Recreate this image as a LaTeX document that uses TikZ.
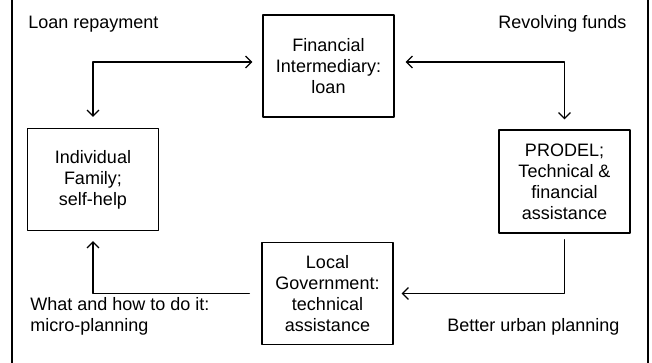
\documentclass[tikz,border=0pt]{standalone}
\usepackage{fontspec}
\setmainfont{Liberation Sans}
\usetikzlibrary{arrows.meta}

\begin{document}
\begin{tikzpicture}[x=0.5pt,y=-0.5pt,>={Straight Barb[length=3pt,width=6pt]},
    line cap=round,line join=round,
    stage/.style={draw,line width=.6pt,minimum width=65.5pt,minimum height=51pt,
      align=center,inner sep=0pt,font=\fontsize{9}{10.5}\selectfont},
    flow/.style={line width=.6pt},
    note/.style={anchor=west,inner sep=0pt,align=left,font=\fontsize{9}{10.5}\selectfont},
    rim/.style={line width=1pt}]
  \useasboundingbox (0,0) rectangle (652,363);
  % The two side rules of the frame.
  \draw[rim] (11.5,0) -- (11.5,363);
  \draw[rim] (648,0) -- (648,363);

  % The four partners of the loop.
  \node[stage] (fin) at (328.5,66) {Financial\\Intermediary:\\loan};
  \node[stage] (ind) at (93,179.5) {Individual\\Family;\\self-help};
  \node[stage,minimum height=51.5pt] (prod) at (564.5,181.5)
    {PRODEL;\\Technical \&\\financial\\assistance};
  \node[stage] (loc) at (327.5,293.5) {Local\\Government:\\technical\\assistance};

  % What moves between them.
  \node[note] (repay) at (28,24) {Loan repayment};
  \node[note] (revolve) at (498,24) {Revolving funds};
  \node[note] (micro) at (30,316) {What and how to do it:\\micro-planning};
  \node[note] (urban) at (447,327) {Better urban planning};

  \draw[flow,<->,shorten <=5.5pt,shorten >=5pt] (ind.north) |- ([yshift=2pt]fin.west);
  \draw[flow,<->,shorten <=5.5pt,shorten >=5pt] ([yshift=2pt]fin.east) -| (prod.north);
  \draw[flow,->,shorten <=3pt,shorten >=4pt] (prod.south) |- (loc.east);
  \draw[flow,->,shorten <=6pt,shorten >=5pt] (loc.west) -| (ind.south);
\end{tikzpicture}
\end{document}
